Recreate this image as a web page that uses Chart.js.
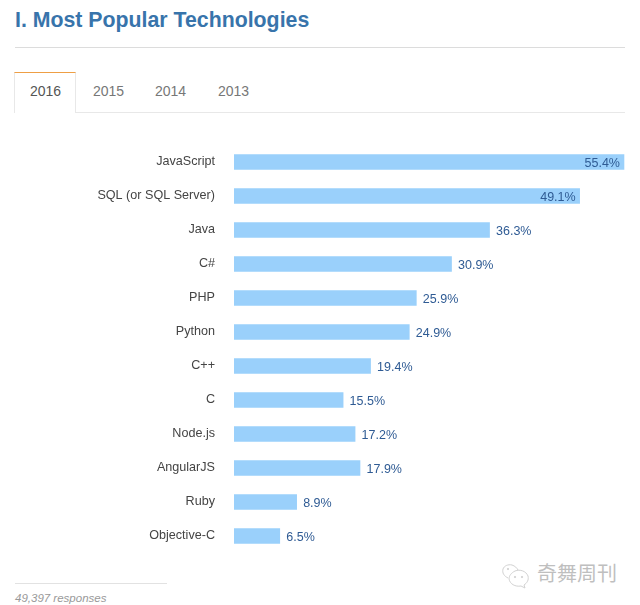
<!DOCTYPE html>
<html><head><meta charset="utf-8">
<script src="https://cdn.jsdelivr.net/npm/chart.js@4"></script>
<style>
html,body{margin:0;padding:0;background:#fff;overflow:hidden}
body{width:640px;height:605px;position:relative;font-family:"Liberation Sans",Arial,sans-serif}
.a{position:absolute;white-space:nowrap}
#title{left:15px;top:8px;font-size:21.3px;line-height:24px;font-weight:bold;color:#3874ab}
#rule{left:15px;top:47px;width:610px;height:1px;background:#dcdcdc}
#tabline{left:15px;top:112px;width:610px;height:1px;background:#e8e8e8}
#tab{left:15px;top:72px;width:60px;height:40px;border-top:1px solid #ee9f45;border-left:1px solid #e8e8e8;border-right:1px solid #e8e8e8;background:#fff;box-sizing:content-box;margin-left:-1px}
.t{top:83px;font-size:14px;line-height:16px;color:#777}
#foot{left:15px;top:583px;width:152px;height:1px;background:#e2e2e2}
#resp{left:15px;top:591px;font-size:11.5px;line-height:14px;font-style:italic;color:#999}
#wm{left:537px;top:561px;font-family:"Noto Sans CJK SC";font-size:20px;line-height:24px;color:#bfbfbf}
#wmi{left:498px;top:560px}
#cw{left:0;top:145px;width:640px;height:408px}
</style></head><body>
<div class="a" id="title">I. Most Popular Technologies</div>
<div class="a" id="rule"></div>
<div class="a" id="tabline"></div>
<div class="a" id="tab"></div>
<div class="a t" style="left:30px;color:#555">2016</div>
<div class="a t" style="left:93px">2015</div>
<div class="a t" style="left:155px">2014</div>
<div class="a t" style="left:218px">2013</div>
<div class="a" id="cw"><canvas id="c" width="640" height="408"></canvas></div>
<div class="a" id="foot"></div>
<div class="a" id="resp">49,397 responses</div>
<svg class="a" id="wmi" width="36" height="30" viewBox="0 0 36 30" fill="none" stroke="#d2d2d2" stroke-width="1">
<path d="M10 18c-4-2-6-5-5-9 1-3 5-5 9-4 3 1 5 3 6 5"/><path d="M17 11c5-2 11 0 13 5 1 4-1 7-4 9l1 3-4-2c-6 1-11-2-12-7 0-3 2-6 6-8z"/>
<circle cx="10" cy="9" r=".7" fill="#d2d2d2"/><circle cx="17" cy="17" r=".7" fill="#d2d2d2"/><circle cx="24" cy="17" r=".7" fill="#d2d2d2"/></svg>
<div class="a" id="wm">奇舞周刊</div>
<script>
const categories = ["JavaScript","SQL (or SQL Server)","Java","C#","PHP","Python","C++","C","Node.js","AngularJS","Ruby","Objective-C"];
const values = [55.4,49.1,36.3,30.9,25.9,24.9,19.4,15.5,17.2,17.9,8.9,6.5];
const insideFrom = 49;
const valueLabels = {
  id:'valueLabels',
  afterDatasetsDraw(chart){
    const ctx = chart.ctx, xs = chart.scales.x, ys = chart.scales.y;
    ctx.save();
    ctx.font = '12.5px "Liberation Sans"';
    ctx.fillStyle = '#2f5b94';
    ctx.textBaseline = 'middle';
    values.forEach((v,i)=>{
      const x = xs.getPixelForValue(v), y = ys.getPixelForTick(i) + 1.5;
      const inside = v >= insideFrom;
      ctx.textAlign = inside ? 'right' : 'left';
      ctx.fillText(v.toFixed(1)+'%', inside ? x-4 : x+6.5, y);
    });
    ctx.restore();
  }
};
new Chart(document.getElementById('c'),{
  type:'bar',
  data:{labels:categories,datasets:[{data:values,backgroundColor:'#9ad0fb',borderWidth:0,barThickness:15}]},
  options:{
    indexAxis:'y',responsive:false,animation:false,
    layout:{padding:{left:0,right:11.8,top:0,bottom:0}},
    plugins:{legend:{display:false},title:{display:false},tooltip:{enabled:false}},
    scales:{
      x:{display:false,min:0,max:56},
      y:{
        grid:{display:false,drawTicks:false},border:{display:false},
        afterFit(s){s.width=234;s.paddingTop=0;s.paddingBottom=0;},
        ticks:{padding:19,color:'#444',font:{family:'"Liberation Sans"',size:12.6},autoSkip:false,labelOffset:-0.5}
      }
    }
  },
  plugins:[valueLabels]
});
</script>
</body></html>
